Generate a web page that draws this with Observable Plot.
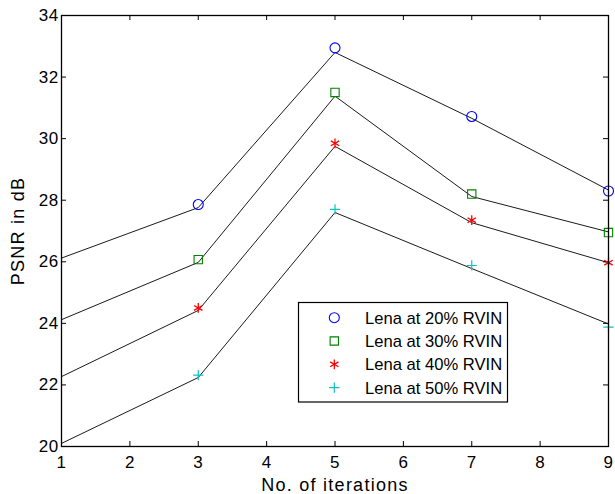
<!DOCTYPE html>
<html><head><meta charset="utf-8">
<script src="https://cdn.jsdelivr.net/npm/d3@7"></script>
<script src="https://cdn.jsdelivr.net/npm/@observablehq/plot@0.6"></script>
<style>body{margin:0;background:#fff}#chart{width:615px;height:494px}</style>
</head><body><div id="chart"></div>
<script>
// ---- data ----
const seriesNames = ["Lena at 20% RVIN", "Lena at 30% RVIN", "Lena at 40% RVIN", "Lena at 50% RVIN"];
const seriesColors = ["#0000ff", "#008000", "#ff0000", "#10c0c0"];
const seriesSymbols = ["circle", "square", "asterisk", "plus"];
const lineIterations = [1, 3, 5, 7, 9];
const markerIterations = [3, 5, 7, 9];
const line20 = [26.12, 27.76, 32.80, 30.66, 28.33];
const line30 = [24.12, 25.98, 31.38, 28.12, 26.97];
const line40 = [22.27, 24.42, 29.75, 27.27, 25.97];
const line50 = [20.10, 22.24, 27.60, 25.78, 23.98];
const marker20 = [27.86, 32.95, 30.72, 28.30];
const marker30 = [26.07, 31.50, 28.20, 26.95];
const marker40 = [24.50, 29.85, 27.35, 25.97];
const marker50 = [22.32, 27.70, 25.88, 23.88];
const xTicks = [1, 2, 3, 4, 5, 6, 7, 8, 9];
const yTicks = [20, 22, 24, 26, 28, 30, 32, 34];
const xLabel = "No. of iterations";
const yLabel = "PSNR in dB";

const lineSets = [line20, line30, line40, line50];
const markerSets = [marker20, marker30, marker40, marker50];
const lineData = lineSets.flatMap((vals, s) => vals.map((v, i) => ({series: seriesNames[s], x: lineIterations[i], y: v})));
const markerData = markerSets.flatMap((vals, s) => vals.map((v, i) => ({series: seriesNames[s], x: markerIterations[i], y: v})));

// ---- layout & styles ----
const W = 615, H = 494, mL = 61, mR = 7, mT = 15, mB = 48;
const innerW = W - mL - mR, innerH = H - mT - mB, tickLen = 5;
const markerR = [5.0, 4.7, 4.6, 3.4];
const markerW = [1.1, 1.1, 1.3, 1.2];
const font = "'Liberation Sans', Arial, Helvetica, sans-serif";

const marks = [];
seriesNames.forEach((name, s) => {
  marks.push(Plot.line(lineData.filter(d => d.series === name), {x: "x", y: "y", stroke: "black", strokeWidth: 0.9}));
});
seriesNames.forEach((name, s) => {
  marks.push(Plot.dot(markerData.filter(d => d.series === name), {
    x: "x", y: "y", symbol: seriesSymbols[s], r: markerR[s], stroke: seriesColors[s], strokeWidth: markerW[s], fill: "none"
  }));
});

const plot = Plot.plot({
  width: W, height: H,
  marginLeft: mL, marginRight: mR, marginTop: mT, marginBottom: mB,
  style: {fontFamily: font, fontSize: "17px", color: "black", background: "white"},
  x: {domain: [1, 9]},
  y: {domain: [20, 34]},
  marks: [
    Plot.axisX(xTicks, {anchor: "bottom", tickSize: 0, tickPadding: 9, fontSize: 17, label: xLabel, labelAnchor: "center", labelOffset: 44, labelArrow: "none"}),
    Plot.axisY(yTicks, {anchor: "left", tickSize: 0, tickPadding: 3, fontSize: 17, label: yLabel, labelAnchor: "center", labelOffset: 50, labelArrow: "none"}),
    // inward ticks on all four sides
    Plot.ruleX(xTicks, {x: d => d, insetTop: innerH - tickLen, stroke: "black", strokeWidth: 1}),
    Plot.ruleX(xTicks, {x: d => d, insetBottom: innerH - tickLen, stroke: "black", strokeWidth: 1}),
    Plot.ruleY(yTicks, {y: d => d, insetRight: innerW - tickLen, stroke: "black", strokeWidth: 1}),
    Plot.ruleY(yTicks, {y: d => d, insetLeft: innerW - tickLen, stroke: "black", strokeWidth: 1}),
    ...marks,
    Plot.frame({stroke: "black", strokeWidth: 1.3})
  ]
});
document.getElementById("chart").appendChild(plot);

const svg = d3.select(plot);
svg.selectAll('g[aria-label="x-axis tick label"] text, g[aria-label="y-axis tick label"] text').style("letter-spacing", "0.4px");
svg.selectAll('g[aria-label="x-axis label"] text, g[aria-label="y-axis label"] text')
  .style("font-size", "18px").style("letter-spacing", "1.25px");

// ---- legend ----
const symTypes = {circle: d3.symbolCircle, square: d3.symbolSquare, asterisk: d3.symbolAsterisk, plus: d3.symbolPlus};
const g = svg.append("g");
g.append("rect").attr("x", 298.5).attr("y", 302.5).attr("width", 209).attr("height", 99.5)
  .attr("fill", "white").attr("stroke", "black").attr("stroke-width", 1.2);
seriesNames.forEach((name, s) => {
  const cy = 317.7 + s * 23.3;
  g.append("path").attr("transform", `translate(334.3,${cy})`)
    .attr("d", d3.symbol(symTypes[seriesSymbols[s]], Math.PI * markerR[s] * markerR[s])())
    .attr("fill", "none").attr("stroke", seriesColors[s]).attr("stroke-width", markerW[s]);
  g.append("text").attr("x", 365).attr("y", cy).attr("dy", "0.36em")
    .attr("text-anchor", "start")
    .style("font-family", font).style("font-size", "16.6px").attr("fill", "black").text(name);
});
</script>
</body></html>
